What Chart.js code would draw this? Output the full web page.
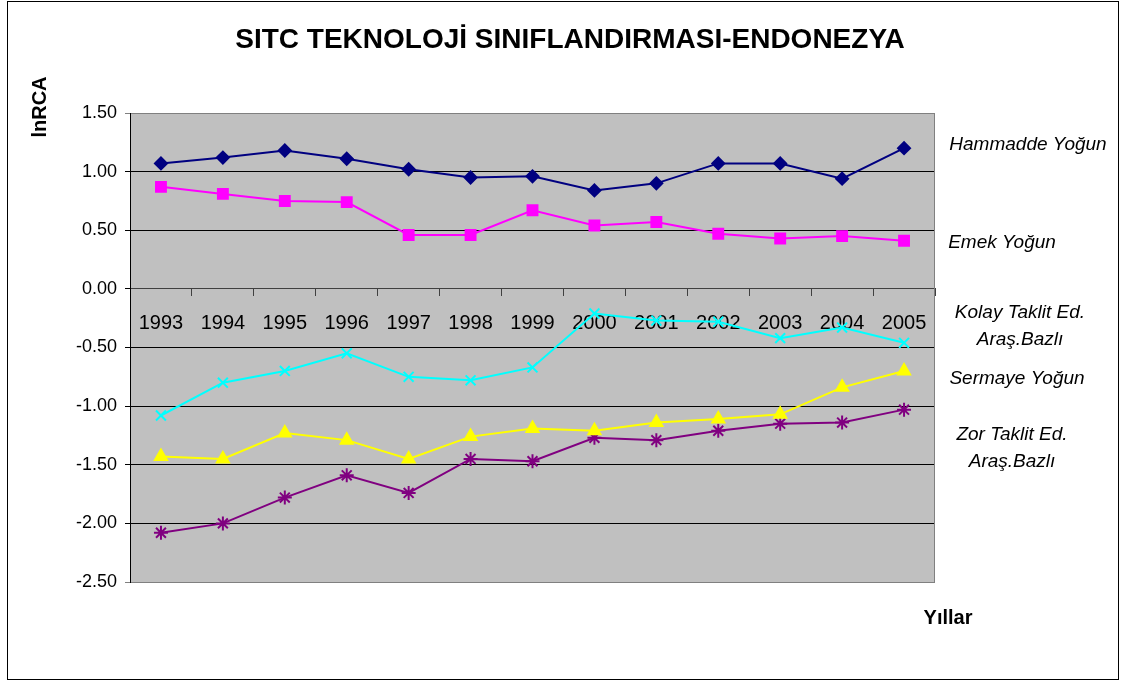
<!DOCTYPE html>
<html>
<head>
<meta charset="utf-8">
<script src="https://cdn.jsdelivr.net/npm/chart.js@4/dist/chart.umd.min.js"></script>
<style>
  html, body { margin: 0; padding: 0; background: #fff; }
  #wrap { width: 1126px; height: 682px; }
</style>
</head>
<body>
<div id="wrap"><canvas id="chart" width="1126" height="682"></canvas></div>
<script>
// data
const years = ['1993', '1994', '1995', '1996', '1997', '1998', '1999', '2000', '2001', '2002', '2003', '2004', '2005'];
const hammadde = [1.07, 1.12, 1.18, 1.11, 1.02, 0.95, 0.96, 0.84, 0.90, 1.07, 1.07, 0.94, 1.20];
const emek = [0.87, 0.81, 0.75, 0.74, 0.46, 0.46, 0.67, 0.54, 0.57, 0.47, 0.43, 0.45, 0.41];
const kolay = [-1.08, -0.80, -0.70, -0.55, -0.75, -0.78, -0.67, -0.21, -0.27, -0.28, -0.42, -0.33, -0.46];
const sermaye = [-1.43, -1.45, -1.23, -1.29, -1.45, -1.26, -1.19, -1.21, -1.14, -1.11, -1.07, -0.84, -0.70];
const zor = [-2.08, -2.00, -1.78, -1.59, -1.74, -1.45, -1.47, -1.27, -1.29, -1.21, -1.15, -1.14, -1.03];
const yTicks = [1.5, 1.0, 0.5, 0, -0.5, -1.0, -1.5, -2.0, -2.5];

const FONT = '"Liberation Sans", Arial, sans-serif';

// background, frame and the free-standing texts
const decor = {
    id: 'decor',
    beforeDraw(chart) {
        const ctx = chart.ctx;
        const a = chart.chartArea;
        ctx.save();
        ctx.fillStyle = '#fff';
        ctx.fillRect(0, 0, chart.width, chart.height);
        ctx.strokeStyle = '#000';
        ctx.lineWidth = 1;
        ctx.strokeRect(7.5, 1.5, 1111, 678);
        ctx.fillStyle = '#c0c0c0';
        ctx.fillRect(a.left, a.top, a.right - a.left, a.bottom - a.top);
        ctx.restore();
    },
    afterDraw(chart) {
        const ctx = chart.ctx;
        const a = chart.chartArea;
        ctx.save();
        ctx.strokeStyle = '#808080';
        ctx.lineWidth = 1;
        ctx.beginPath();
        ctx.moveTo(a.right - 0.5, a.top);
        ctx.lineTo(a.right - 0.5, a.bottom);
        ctx.stroke();

        ctx.fillStyle = '#000';
        ctx.textAlign = 'center';
        ctx.textBaseline = 'middle';
        ctx.font = 'bold 28px ' + FONT;
        ctx.fillText('SITC TEKNOLOJİ SINIFLANDIRMASI-ENDONEZYA', 570, 40);

        ctx.font = 'bold 20px ' + FONT;
        ctx.fillText('Yıllar', 948, 618);
        ctx.save();
        ctx.translate(40, 107);
        ctx.rotate(-Math.PI / 2);
        ctx.fillText('lnRCA', 0, 0);
        ctx.restore();

        ctx.font = 'italic 19px ' + FONT;
        ctx.fillText('Hammadde Yoğun', 1028, 145);
        ctx.fillText('Emek Yoğun', 1002, 243);
        ctx.fillText('Kolay Taklit Ed.', 1020, 313);
        ctx.fillText('Araş.Bazlı', 1020, 340);
        ctx.fillText('Sermaye Yoğun', 1017, 379);
        ctx.fillText('Zor Taklit Ed.', 1012, 435);
        ctx.fillText('Araş.Bazlı', 1012, 462);
        ctx.restore();
    }
};

function series(label, data, color, style, radius) {
    return {
        label: label,
        data: data,
        borderColor: color,
        backgroundColor: color,
        borderWidth: 2,
        pointStyle: style,
        pointRadius: radius,
        pointBorderWidth: 2,
        pointBackgroundColor: color,
        pointBorderColor: color,
        tension: 0
    };
}

new Chart(document.getElementById('chart'), {
    type: 'line',
    data: {
        labels: years,
        datasets: [
            series('Hammadde Yoğun', hammadde, '#000080', 'rectRot', 6),
            series('Emek Yoğun', emek, '#ff00ff', 'rect', 7),
            series('Kolay Taklit Ed. Araş.Bazlı', kolay, '#00ffff', 'crossRot', 7),
            series('Sermaye Yoğun', sermaye, '#ffff00', 'triangle', 7),
            series('Zor Taklit Ed. Araş.Bazlı', zor, '#800080', 'star', 7)
        ]
    },
    options: {
        responsive: false,
        animation: false,
        layout: { padding: { left: 70, top: 113, right: 191, bottom: 100 } },
        plugins: {
            legend: { display: false },
            tooltip: { enabled: false }
        },
        scales: {
            x: {
                position: { y: 0 },
                offset: true,
                grid: {
                    drawOnChartArea: false,
                    drawTicks: true,
                    tickLength: 7,
                    color: '#404040',
                    offset: true
                },
                border: { color: '#404040', width: 1 },
                ticks: {
                    color: '#000',
                    padding: 16,
                    maxRotation: 0,
                    autoSkip: false,
                    font: { family: FONT, size: 20 }
                }
            },
            y: {
                min: -2.5,
                max: 1.5,
                afterFit(scale) { scale.width = 60; },
                afterBuildTicks(scale) { scale.ticks = yTicks.map(v => ({ value: v })); },
                grid: {
                    color: ctx => (ctx.tick && (ctx.tick.value === 1.5 || ctx.tick.value === -2.5)) ? '#808080' : '#000',
                    tickLength: 5
                },
                border: { color: '#000', width: 1 },
                ticks: {
                    color: '#000',
                    padding: 8,
                    font: { family: FONT, size: 18 },
                    callback: v => v.toFixed(2)
                }
            }
        }
    },
    plugins: [decor]
});
</script>
</body>
</html>
